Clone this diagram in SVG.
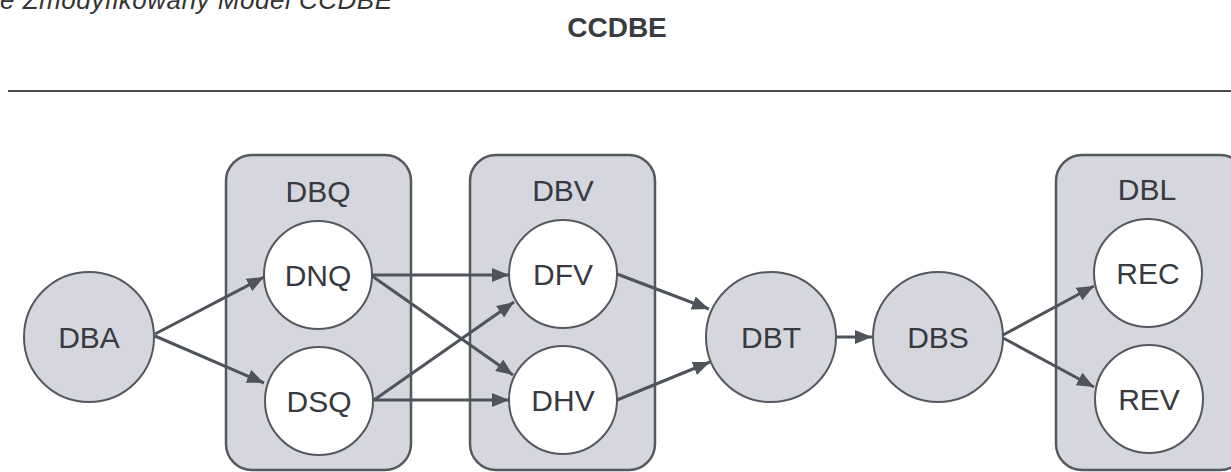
<svg xmlns="http://www.w3.org/2000/svg" width="1231" height="472" viewBox="0 0 1231 472">
<defs>
<style>
.box{fill:#d5d6de;stroke:#55585f;stroke-width:2.5}
.gn{fill:#d5d6de;stroke:#55585f;stroke-width:2}
.wn{fill:#ffffff;stroke:#55585f;stroke-width:2}
.lbl{font-family:"Liberation Sans",Arial,sans-serif;font-size:30px;fill:#373a40;text-anchor:middle}
.edge{stroke:#4f535a;stroke-width:3;fill:none;marker-end:url(#ah)}
</style>
<marker id="ah" markerUnits="userSpaceOnUse" markerWidth="18" markerHeight="14" refX="17" refY="7" orient="auto">
<path d="M0,0 L17,7 L0,14 z" fill="#4f535a"/>
</marker>
</defs>
<rect width="1231" height="472" fill="#ffffff"/>
<text x="0" y="9" font-family="'Liberation Sans',Arial,sans-serif" font-style="italic" font-size="26" fill="#333" textLength="392">e Zmodyfikowany Model CCDBE</text>
<text x="617" y="37" font-family="'Liberation Sans',Arial,sans-serif" font-weight="bold" font-size="28" fill="#3a3d40" text-anchor="middle">CCDBE</text>
<line x1="8" y1="91" x2="1231" y2="91" stroke="#4a4d52" stroke-width="2"/>

<g id="DBQ">
<rect class="box" x="226" y="155" width="185" height="315" rx="26"/>
<text class="lbl" x="318" y="202">DBQ</text>
</g>
<g id="DBV">
<rect class="box" x="470" y="155" width="185" height="315" rx="26"/>
<text class="lbl" x="563" y="201">DBV</text>
</g>
<g id="DBL">
<rect class="box" x="1056" y="155" width="190" height="315" rx="26"/>
<text class="lbl" x="1147" y="200">DBL</text>
</g>

<g id="DBA"><circle class="gn" cx="89" cy="337" r="65"/><text class="lbl" x="89" y="348">DBA</text></g>
<g id="DNQ"><circle class="wn" cx="318" cy="275" r="54"/><text class="lbl" x="318" y="286">DNQ</text></g>
<g id="DSQ"><circle class="wn" cx="319" cy="401" r="54"/><text class="lbl" x="319" y="412">DSQ</text></g>
<g id="DFV"><circle class="wn" cx="563" cy="274" r="54"/><text class="lbl" x="563" y="285">DFV</text></g>
<g id="DHV"><circle class="wn" cx="563" cy="400" r="54"/><text class="lbl" x="563" y="411">DHV</text></g>
<g id="DBT"><circle class="gn" cx="771" cy="337" r="65"/><text class="lbl" x="771" y="348">DBT</text></g>
<g id="DBS"><circle class="gn" cx="938" cy="337" r="65"/><text class="lbl" x="938" y="348">DBS</text></g>
<g id="REC"><circle class="wn" cx="1148" cy="273" r="54"/><text class="lbl" x="1148" y="284">REC</text></g>
<g id="REV"><circle class="wn" cx="1149" cy="399" r="54"/><text class="lbl" x="1149" y="410">REV</text></g>

<g id="connectors">
<line class="edge" x1="155" y1="334" x2="264" y2="277"/>
<line class="edge" x1="155" y1="336" x2="264" y2="383"/>
<line class="edge" x1="372" y1="275" x2="509" y2="275"/>
<line class="edge" x1="372" y1="276" x2="513" y2="375"/>
<line class="edge" x1="374" y1="400" x2="514" y2="302"/>
<line class="edge" x1="374" y1="400" x2="509" y2="400"/>
<line class="edge" x1="617" y1="274" x2="709" y2="309"/>
<line class="edge" x1="617" y1="400" x2="710" y2="362"/>
<line class="edge" x1="836" y1="337" x2="872" y2="337"/>
<line class="edge" x1="1003" y1="335" x2="1094" y2="286"/>
<line class="edge" x1="1003" y1="338" x2="1094" y2="387"/>
</g>
</svg>
